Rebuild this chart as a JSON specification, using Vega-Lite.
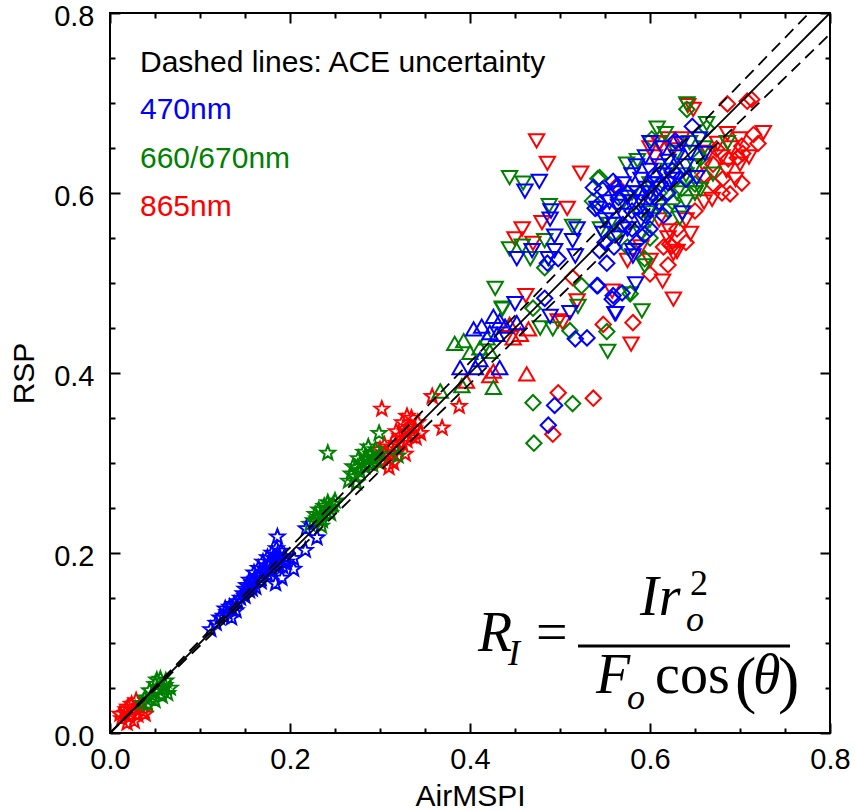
{
"$schema": "https://vega.github.io/schema/vega-lite/v6.json",
"width": 720, "height": 720,
"autosize": "none",
"padding": {"left": 110, "top": 13, "right": 25, "bottom": 77},
"background": "white",
"config": {
 "view": {"stroke": "black", "strokeWidth": 2},
 "axis": {"labelFont": "Liberation Sans", "labelFontSize": 29, "labelColor": "black", "titleFont": "Liberation Sans", "titleFontSize": 30, "titleFontWeight": "normal", "titleColor": "black", "grid": false, "domain": false, "labelFlush": false, "labelOverlap": false}
},
"resolve": {"axis": {"x": "independent", "y": "independent"}},
"datasets": {
 "pts": [
{"a":0.017,"r":0.022,"b":"865","m":"star"},{"a":0.02,"r":0.029,"b":"865","m":"star"},{"a":0.024,"r":0.032,"b":"865","m":"star"},{"a":0.028,"r":0.027,"b":"865","m":"star"},{"a":0.031,"r":0.02,"b":"865","m":"star"},{"a":0.022,"r":0.018,"b":"865","m":"star"},{"a":0.013,"r":0.016,"b":"865","m":"star"},{"a":0.033,"r":0.03,"b":"865","m":"star"},{"a":0.037,"r":0.024,"b":"865","m":"star"},{"a":0.019,"r":0.011,"b":"865","m":"star"},{"a":0.027,"r":0.013,"b":"865","m":"star"},{"a":0.011,"r":0.021,"b":"865","m":"star"},{"a":0.029,"r":0.036,"b":"865","m":"star"},{"a":0.039,"r":0.021,"b":"865","m":"star"},{"a":0.018,"r":0.026,"b":"865","m":"star"},
{"a":0.3,"r":0.3,"b":"865","m":"star"},{"a":0.305,"r":0.31,"b":"865","m":"star"},{"a":0.31,"r":0.305,"b":"865","m":"star"},{"a":0.312,"r":0.318,"b":"865","m":"star"},{"a":0.315,"r":0.31,"b":"865","m":"star"},{"a":0.318,"r":0.322,"b":"865","m":"star"},{"a":0.32,"r":0.315,"b":"865","m":"star"},{"a":0.322,"r":0.33,"b":"865","m":"star"},{"a":0.325,"r":0.322,"b":"865","m":"star"},{"a":0.328,"r":0.335,"b":"865","m":"star"},{"a":0.33,"r":0.325,"b":"865","m":"star"},{"a":0.332,"r":0.34,"b":"865","m":"star"},{"a":0.335,"r":0.33,"b":"865","m":"star"},{"a":0.338,"r":0.338,"b":"865","m":"star"},{"a":0.34,"r":0.328,"b":"865","m":"star"},{"a":0.345,"r":0.333,"b":"865","m":"star"},{"a":0.31,"r":0.295,"b":"865","m":"star"},{"a":0.315,"r":0.3,"b":"865","m":"star"},{"a":0.305,"r":0.32,"b":"865","m":"star"},{"a":0.3,"r":0.315,"b":"865","m":"star"},{"a":0.325,"r":0.345,"b":"865","m":"star"},{"a":0.335,"r":0.35,"b":"865","m":"star"},{"a":0.342,"r":0.345,"b":"865","m":"star"},{"a":0.318,"r":0.335,"b":"865","m":"star"},{"a":0.328,"r":0.31,"b":"865","m":"star"},
{"a":0.302,"r":0.36,"b":"865","m":"star"},{"a":0.358,"r":0.374,"b":"865","m":"star"},{"a":0.369,"r":0.339,"b":"865","m":"star"},{"a":0.388,"r":0.363,"b":"865","m":"star"},{"a":0.33,"r":0.352,"b":"865","m":"star"},
{"a":0.039,"r":0.039,"b":"660","m":"star"},{"a":0.044,"r":0.047,"b":"660","m":"star"},{"a":0.05,"r":0.054,"b":"660","m":"star"},{"a":0.056,"r":0.06,"b":"660","m":"star"},{"a":0.061,"r":0.053,"b":"660","m":"star"},{"a":0.064,"r":0.044,"b":"660","m":"star"},{"a":0.058,"r":0.041,"b":"660","m":"star"},{"a":0.05,"r":0.036,"b":"660","m":"star"},{"a":0.042,"r":0.032,"b":"660","m":"star"},{"a":0.053,"r":0.049,"b":"660","m":"star"},{"a":0.047,"r":0.042,"b":"660","m":"star"},{"a":0.059,"r":0.049,"b":"660","m":"star"},{"a":0.052,"r":0.059,"b":"660","m":"star"},{"a":0.036,"r":0.033,"b":"660","m":"star"},{"a":0.062,"r":0.058,"b":"660","m":"star"},{"a":0.067,"r":0.05,"b":"660","m":"star"},
{"a":0.222,"r":0.232,"b":"660","m":"star"},{"a":0.226,"r":0.236,"b":"660","m":"star"},{"a":0.23,"r":0.238,"b":"660","m":"star"},{"a":0.234,"r":0.242,"b":"660","m":"star"},{"a":0.236,"r":0.236,"b":"660","m":"star"},{"a":0.24,"r":0.248,"b":"660","m":"star"},{"a":0.243,"r":0.25,"b":"660","m":"star"},{"a":0.245,"r":0.244,"b":"660","m":"star"},{"a":0.248,"r":0.254,"b":"660","m":"star"},{"a":0.238,"r":0.252,"b":"660","m":"star"},{"a":0.232,"r":0.248,"b":"660","m":"star"},{"a":0.228,"r":0.243,"b":"660","m":"star"},{"a":0.25,"r":0.258,"b":"660","m":"star"},{"a":0.242,"r":0.256,"b":"660","m":"star"},{"a":0.235,"r":0.23,"b":"660","m":"star"},{"a":0.242,"r":0.311,"b":"660","m":"star"},
{"a":0.265,"r":0.28,"b":"660","m":"star"},{"a":0.268,"r":0.288,"b":"660","m":"star"},{"a":0.272,"r":0.285,"b":"660","m":"star"},{"a":0.275,"r":0.295,"b":"660","m":"star"},{"a":0.278,"r":0.29,"b":"660","m":"star"},{"a":0.28,"r":0.3,"b":"660","m":"star"},{"a":0.283,"r":0.296,"b":"660","m":"star"},{"a":0.285,"r":0.306,"b":"660","m":"star"},{"a":0.288,"r":0.3,"b":"660","m":"star"},{"a":0.29,"r":0.31,"b":"660","m":"star"},{"a":0.293,"r":0.305,"b":"660","m":"star"},{"a":0.295,"r":0.315,"b":"660","m":"star"},{"a":0.27,"r":0.296,"b":"660","m":"star"},{"a":0.276,"r":0.305,"b":"660","m":"star"},{"a":0.282,"r":0.312,"b":"660","m":"star"},{"a":0.287,"r":0.318,"b":"660","m":"star"},{"a":0.292,"r":0.298,"b":"660","m":"star"},{"a":0.297,"r":0.302,"b":"660","m":"star"},{"a":0.3,"r":0.31,"b":"660","m":"star"},{"a":0.274,"r":0.278,"b":"660","m":"star"},{"a":0.299,"r":0.333,"b":"660","m":"star"},{"a":0.32,"r":0.308,"b":"660","m":"star"},
{"a":0.112,"r":0.115,"b":"470","m":"star"},{"a":0.118,"r":0.122,"b":"470","m":"star"},{"a":0.122,"r":0.128,"b":"470","m":"star"},{"a":0.126,"r":0.13,"b":"470","m":"star"},{"a":0.13,"r":0.134,"b":"470","m":"star"},{"a":0.133,"r":0.14,"b":"470","m":"star"},{"a":0.136,"r":0.137,"b":"470","m":"star"},{"a":0.138,"r":0.143,"b":"470","m":"star"},{"a":0.14,"r":0.136,"b":"470","m":"star"},{"a":0.135,"r":0.128,"b":"470","m":"star"},{"a":0.128,"r":0.138,"b":"470","m":"star"},{"a":0.142,"r":0.146,"b":"470","m":"star"},{"a":0.145,"r":0.15,"b":"470","m":"star"},{"a":0.148,"r":0.155,"b":"470","m":"star"},{"a":0.15,"r":0.16,"b":"470","m":"star"},{"a":0.152,"r":0.164,"b":"470","m":"star"},{"a":0.155,"r":0.158,"b":"470","m":"star"},{"a":0.158,"r":0.166,"b":"470","m":"star"},{"a":0.16,"r":0.17,"b":"470","m":"star"},{"a":0.162,"r":0.162,"b":"470","m":"star"},{"a":0.165,"r":0.174,"b":"470","m":"star"},{"a":0.168,"r":0.168,"b":"470","m":"star"},{"a":0.17,"r":0.178,"b":"470","m":"star"},{"a":0.172,"r":0.182,"b":"470","m":"star"},{"a":0.175,"r":0.176,"b":"470","m":"star"},{"a":0.176,"r":0.186,"b":"470","m":"star"},{"a":0.178,"r":0.19,"b":"470","m":"star"},{"a":0.18,"r":0.182,"b":"470","m":"star"},{"a":0.182,"r":0.194,"b":"470","m":"star"},{"a":0.185,"r":0.188,"b":"470","m":"star"},{"a":0.186,"r":0.198,"b":"470","m":"star"},{"a":0.188,"r":0.192,"b":"470","m":"star"},{"a":0.19,"r":0.202,"b":"470","m":"star"},{"a":0.192,"r":0.185,"b":"470","m":"star"},{"a":0.194,"r":0.196,"b":"470","m":"star"},{"a":0.155,"r":0.17,"b":"470","m":"star"},{"a":0.16,"r":0.178,"b":"470","m":"star"},{"a":0.165,"r":0.183,"b":"470","m":"star"},{"a":0.17,"r":0.19,"b":"470","m":"star"},{"a":0.175,"r":0.195,"b":"470","m":"star"},{"a":0.18,"r":0.2,"b":"470","m":"star"},{"a":0.185,"r":0.205,"b":"470","m":"star"},{"a":0.15,"r":0.152,"b":"470","m":"star"},{"a":0.158,"r":0.16,"b":"470","m":"star"},{"a":0.168,"r":0.172,"b":"470","m":"star"},{"a":0.178,"r":0.18,"b":"470","m":"star"},{"a":0.188,"r":0.186,"b":"470","m":"star"},{"a":0.196,"r":0.19,"b":"470","m":"star"},
{"a":0.186,"r":0.218,"b":"470","m":"star"},{"a":0.218,"r":0.227,"b":"470","m":"star"},{"a":0.23,"r":0.217,"b":"470","m":"star"},{"a":0.217,"r":0.203,"b":"470","m":"star"},{"a":0.204,"r":0.194,"b":"470","m":"star"},{"a":0.204,"r":0.182,"b":"470","m":"star"},{"a":0.191,"r":0.172,"b":"470","m":"star"},{"a":0.184,"r":0.166,"b":"470","m":"star"},
{"a":0.463,"r":0.399,"b":"865","m":"up"},{"a":0.426,"r":0.402,"b":"865","m":"up"},{"a":0.448,"r":0.439,"b":"865","m":"up"},{"a":0.456,"r":0.443,"b":"865","m":"up"},{"a":0.465,"r":0.449,"b":"865","m":"up"},{"a":0.444,"r":0.454,"b":"865","m":"up"},{"a":0.396,"r":0.391,"b":"865","m":"up"},{"a":0.422,"r":0.397,"b":"865","m":"up"},
{"a":0.383,"r":0.433,"b":"660","m":"up"},{"a":0.393,"r":0.436,"b":"660","m":"up"},{"a":0.4,"r":0.423,"b":"660","m":"up"},{"a":0.411,"r":0.428,"b":"660","m":"up"},{"a":0.391,"r":0.386,"b":"660","m":"up"},{"a":0.426,"r":0.384,"b":"660","m":"up"},{"a":0.367,"r":0.38,"b":"660","m":"up"},{"a":0.419,"r":0.439,"b":"660","m":"up"},{"a":0.422,"r":0.424,"b":"660","m":"up"},
{"a":0.426,"r":0.463,"b":"470","m":"up"},{"a":0.413,"r":0.452,"b":"470","m":"up"},{"a":0.404,"r":0.449,"b":"470","m":"up"},{"a":0.433,"r":0.458,"b":"470","m":"up"},{"a":0.439,"r":0.452,"b":"470","m":"up"},{"a":0.422,"r":0.445,"b":"470","m":"up"},{"a":0.452,"r":0.456,"b":"470","m":"up"},{"a":0.389,"r":0.406,"b":"470","m":"up"},{"a":0.406,"r":0.406,"b":"470","m":"up"},{"a":0.411,"r":0.415,"b":"470","m":"up"},{"a":0.433,"r":0.406,"b":"470","m":"up"},{"a":0.43,"r":0.443,"b":"470","m":"up"},
{"a":0.474,"r":0.658,"b":"865","m":"down"},{"a":0.486,"r":0.633,"b":"865","m":"down"},{"a":0.523,"r":0.622,"b":"865","m":"down"},{"a":0.508,"r":0.583,"b":"865","m":"down"},{"a":0.458,"r":0.56,"b":"865","m":"down"},{"a":0.45,"r":0.549,"b":"865","m":"down"},{"a":0.48,"r":0.567,"b":"865","m":"down"},{"a":0.47,"r":0.544,"b":"865","m":"down"},{"a":0.462,"r":0.486,"b":"865","m":"down"},{"a":0.519,"r":0.48,"b":"865","m":"down"},{"a":0.498,"r":0.458,"b":"865","m":"down"},{"a":0.642,"r":0.697,"b":"865","m":"down"},{"a":0.726,"r":0.667,"b":"865","m":"down"},{"a":0.686,"r":0.666,"b":"865","m":"down"},{"a":0.669,"r":0.593,"b":"865","m":"down"},{"a":0.7,"r":0.632,"b":"865","m":"down"},{"a":0.622,"r":0.558,"b":"865","m":"down"},{"a":0.611,"r":0.656,"b":"865","m":"down"},{"a":0.626,"r":0.533,"b":"865","m":"down"},{"a":0.614,"r":0.502,"b":"865","m":"down"},{"a":0.626,"r":0.482,"b":"865","m":"down"},{"a":0.579,"r":0.432,"b":"865","m":"down"},{"a":0.558,"r":0.491,"b":"865","m":"down"},{"a":0.503,"r":0.456,"b":"865","m":"down"},{"a":0.648,"r":0.693,"b":"865","m":"down"},
{"a":0.6,"r":0.65,"b":"865","m":"down"},{"a":0.61,"r":0.655,"b":"865","m":"down"},{"a":0.62,"r":0.66,"b":"865","m":"down"},{"a":0.625,"r":0.648,"b":"865","m":"down"},{"a":0.605,"r":0.64,"b":"865","m":"down"},{"a":0.635,"r":0.66,"b":"865","m":"down"},{"a":0.66,"r":0.63,"b":"865","m":"down"},{"a":0.665,"r":0.645,"b":"865","m":"down"},{"a":0.675,"r":0.655,"b":"865","m":"down"},{"a":0.68,"r":0.64,"b":"865","m":"down"},{"a":0.69,"r":0.65,"b":"865","m":"down"},{"a":0.685,"r":0.625,"b":"865","m":"down"},{"a":0.7,"r":0.66,"b":"865","m":"down"},{"a":0.695,"r":0.615,"b":"865","m":"down"},{"a":0.71,"r":0.64,"b":"865","m":"down"},{"a":0.65,"r":0.6,"b":"865","m":"down"},{"a":0.66,"r":0.59,"b":"865","m":"down"},{"a":0.64,"r":0.57,"b":"865","m":"down"},{"a":0.62,"r":0.55,"b":"865","m":"down"},{"a":0.63,"r":0.535,"b":"865","m":"down"},{"a":0.645,"r":0.555,"b":"865","m":"down"},{"a":0.61,"r":0.57,"b":"865","m":"down"},{"a":0.59,"r":0.54,"b":"865","m":"down"},{"a":0.6,"r":0.525,"b":"865","m":"down"},{"a":0.575,"r":0.525,"b":"865","m":"down"},
{"a":0.548,"r":0.454,"b":"865","m":"diamond"},{"a":0.581,"r":0.456,"b":"865","m":"diamond"},{"a":0.514,"r":0.506,"b":"865","m":"diamond"},{"a":0.563,"r":0.608,"b":"865","m":"diamond"},{"a":0.686,"r":0.699,"b":"865","m":"diamond"},{"a":0.708,"r":0.702,"b":"865","m":"diamond"},{"a":0.713,"r":0.704,"b":"865","m":"diamond"},{"a":0.702,"r":0.652,"b":"865","m":"diamond"},{"a":0.703,"r":0.644,"b":"865","m":"diamond"},{"a":0.697,"r":0.639,"b":"865","m":"diamond"},{"a":0.687,"r":0.638,"b":"865","m":"diamond"},{"a":0.702,"r":0.611,"b":"865","m":"diamond"},{"a":0.689,"r":0.599,"b":"865","m":"diamond"},{"a":0.681,"r":0.616,"b":"865","m":"diamond"},{"a":0.67,"r":0.632,"b":"865","m":"diamond"},{"a":0.674,"r":0.649,"b":"865","m":"diamond"},{"a":0.622,"r":0.543,"b":"865","m":"diamond"},{"a":0.624,"r":0.541,"b":"865","m":"diamond"},{"a":0.537,"r":0.372,"b":"865","m":"diamond"},{"a":0.498,"r":0.378,"b":"865","m":"diamond"},{"a":0.492,"r":0.332,"b":"865","m":"diamond"},
{"a":0.66,"r":0.62,"b":"865","m":"diamond"},{"a":0.67,"r":0.61,"b":"865","m":"diamond"},{"a":0.68,"r":0.6,"b":"865","m":"diamond"},{"a":0.65,"r":0.58,"b":"865","m":"diamond"},{"a":0.63,"r":0.56,"b":"865","m":"diamond"},{"a":0.615,"r":0.54,"b":"865","m":"diamond"},{"a":0.64,"r":0.545,"b":"865","m":"diamond"},{"a":0.6,"r":0.51,"b":"865","m":"diamond"},{"a":0.62,"r":0.52,"b":"865","m":"diamond"},{"a":0.715,"r":0.665,"b":"865","m":"diamond"},{"a":0.72,"r":0.655,"b":"865","m":"diamond"},
{"a":0.444,"r":0.617,"b":"660","m":"down"},{"a":0.459,"r":0.611,"b":"660","m":"down"},{"a":0.488,"r":0.586,"b":"660","m":"down"},{"a":0.444,"r":0.538,"b":"660","m":"down"},{"a":0.458,"r":0.541,"b":"660","m":"down"},{"a":0.483,"r":0.547,"b":"660","m":"down"},{"a":0.467,"r":0.527,"b":"660","m":"down"},{"a":0.428,"r":0.494,"b":"660","m":"down"},{"a":0.436,"r":0.472,"b":"660","m":"down"},{"a":0.514,"r":0.563,"b":"660","m":"down"},{"a":0.52,"r":0.474,"b":"660","m":"down"},{"a":0.608,"r":0.672,"b":"660","m":"down"},{"a":0.617,"r":0.666,"b":"660","m":"down"},{"a":0.663,"r":0.677,"b":"660","m":"down"},{"a":0.686,"r":0.656,"b":"660","m":"down"},{"a":0.67,"r":0.621,"b":"660","m":"down"},{"a":0.656,"r":0.604,"b":"660","m":"down"},{"a":0.633,"r":0.572,"b":"660","m":"down"},{"a":0.597,"r":0.578,"b":"660","m":"down"},{"a":0.586,"r":0.636,"b":"660","m":"down"},{"a":0.574,"r":0.632,"b":"660","m":"down"},{"a":0.644,"r":0.656,"b":"660","m":"down"},{"a":0.641,"r":0.699,"b":"660","m":"down"},{"a":0.578,"r":0.488,"b":"660","m":"down"},{"a":0.591,"r":0.469,"b":"660","m":"down"},{"a":0.553,"r":0.424,"b":"660","m":"down"},{"a":0.594,"r":0.519,"b":"660","m":"down"},{"a":0.436,"r":0.471,"b":"660","m":"down"},{"a":0.478,"r":0.45,"b":"660","m":"down"},{"a":0.492,"r":0.449,"b":"660","m":"down"},
{"a":0.58,"r":0.6,"b":"660","m":"down"},{"a":0.6,"r":0.61,"b":"660","m":"down"},{"a":0.62,"r":0.625,"b":"660","m":"down"},{"a":0.63,"r":0.6,"b":"660","m":"down"},{"a":0.64,"r":0.62,"b":"660","m":"down"},{"a":0.65,"r":0.63,"b":"660","m":"down"},{"a":0.61,"r":0.585,"b":"660","m":"down"},{"a":0.6,"r":0.57,"b":"660","m":"down"},{"a":0.62,"r":0.58,"b":"660","m":"down"},{"a":0.66,"r":0.65,"b":"660","m":"down"},{"a":0.57,"r":0.59,"b":"660","m":"down"},{"a":0.555,"r":0.565,"b":"660","m":"down"},{"a":0.545,"r":0.56,"b":"660","m":"down"},{"a":0.59,"r":0.555,"b":"660","m":"down"},{"a":0.63,"r":0.645,"b":"660","m":"down"},{"a":0.65,"r":0.6,"b":"660","m":"down"},{"a":0.64,"r":0.59,"b":"660","m":"down"},
{"a":0.542,"r":0.616,"b":"660","m":"diamond"},{"a":0.483,"r":0.517,"b":"660","m":"diamond"},{"a":0.47,"r":0.472,"b":"660","m":"diamond"},{"a":0.524,"r":0.497,"b":"660","m":"diamond"},{"a":0.536,"r":0.591,"b":"660","m":"diamond"},{"a":0.578,"r":0.488,"b":"660","m":"diamond"},{"a":0.641,"r":0.693,"b":"660","m":"diamond"},{"a":0.663,"r":0.672,"b":"660","m":"diamond"},{"a":0.544,"r":0.617,"b":"660","m":"diamond"},{"a":0.602,"r":0.66,"b":"660","m":"diamond"},{"a":0.656,"r":0.639,"b":"660","m":"diamond"},{"a":0.552,"r":0.446,"b":"660","m":"diamond"},{"a":0.594,"r":0.527,"b":"660","m":"diamond"},{"a":0.47,"r":0.367,"b":"660","m":"diamond"},{"a":0.514,"r":0.366,"b":"660","m":"diamond"},{"a":0.471,"r":0.322,"b":"660","m":"diamond"},{"a":0.511,"r":0.447,"b":"660","m":"diamond"},
{"a":0.59,"r":0.58,"b":"660","m":"diamond"},{"a":0.61,"r":0.6,"b":"660","m":"diamond"},{"a":0.625,"r":0.59,"b":"660","m":"diamond"},{"a":0.635,"r":0.605,"b":"660","m":"diamond"},{"a":0.6,"r":0.55,"b":"660","m":"diamond"},{"a":0.65,"r":0.61,"b":"660","m":"diamond"},{"a":0.56,"r":0.555,"b":"660","m":"diamond"},{"a":0.575,"r":0.54,"b":"660","m":"diamond"},
{"a":0.477,"r":0.613,"b":"470","m":"down"},{"a":0.461,"r":0.602,"b":"470","m":"down"},{"a":0.49,"r":0.58,"b":"470","m":"down"},{"a":0.489,"r":0.571,"b":"470","m":"down"},{"a":0.494,"r":0.552,"b":"470","m":"down"},{"a":0.452,"r":0.527,"b":"470","m":"down"},{"a":0.469,"r":0.536,"b":"470","m":"down"},{"a":0.494,"r":0.536,"b":"470","m":"down"},{"a":0.519,"r":0.56,"b":"470","m":"down"},{"a":0.514,"r":0.547,"b":"470","m":"down"},{"a":0.517,"r":0.53,"b":"470","m":"down"},{"a":0.487,"r":0.527,"b":"470","m":"down"},{"a":0.45,"r":0.477,"b":"470","m":"down"},{"a":0.489,"r":0.463,"b":"470","m":"down"},{"a":0.511,"r":0.467,"b":"470","m":"down"},{"a":0.561,"r":0.466,"b":"470","m":"down"},{"a":0.6,"r":0.656,"b":"470","m":"down"},{"a":0.614,"r":0.65,"b":"470","m":"down"},{"a":0.661,"r":0.644,"b":"470","m":"down"},{"a":0.652,"r":0.617,"b":"470","m":"down"},{"a":0.636,"r":0.578,"b":"470","m":"down"},{"a":0.581,"r":0.536,"b":"470","m":"down"},{"a":0.541,"r":0.583,"b":"470","m":"down"},{"a":0.584,"r":0.499,"b":"470","m":"down"},{"a":0.562,"r":0.466,"b":"470","m":"down"},{"a":0.581,"r":0.53,"b":"470","m":"down"},
{"a":0.56,"r":0.6,"b":"470","m":"down"},{"a":0.57,"r":0.61,"b":"470","m":"down"},{"a":0.575,"r":0.595,"b":"470","m":"down"},{"a":0.58,"r":0.62,"b":"470","m":"down"},{"a":0.585,"r":0.6,"b":"470","m":"down"},{"a":0.59,"r":0.615,"b":"470","m":"down"},{"a":0.595,"r":0.605,"b":"470","m":"down"},{"a":0.6,"r":0.625,"b":"470","m":"down"},{"a":0.605,"r":0.61,"b":"470","m":"down"},{"a":0.61,"r":0.63,"b":"470","m":"down"},{"a":0.615,"r":0.62,"b":"470","m":"down"},{"a":0.62,"r":0.635,"b":"470","m":"down"},{"a":0.625,"r":0.615,"b":"470","m":"down"},{"a":0.63,"r":0.64,"b":"470","m":"down"},{"a":0.565,"r":0.585,"b":"470","m":"down"},{"a":0.57,"r":0.575,"b":"470","m":"down"},{"a":0.58,"r":0.59,"b":"470","m":"down"},{"a":0.59,"r":0.59,"b":"470","m":"down"},{"a":0.6,"r":0.6,"b":"470","m":"down"},{"a":0.61,"r":0.605,"b":"470","m":"down"},{"a":0.62,"r":0.61,"b":"470","m":"down"},{"a":0.55,"r":0.57,"b":"470","m":"down"},{"a":0.555,"r":0.59,"b":"470","m":"down"},{"a":0.585,"r":0.63,"b":"470","m":"down"},{"a":0.595,"r":0.64,"b":"470","m":"down"},{"a":0.64,"r":0.63,"b":"470","m":"down"},{"a":0.645,"r":0.645,"b":"470","m":"down"},{"a":0.575,"r":0.56,"b":"470","m":"down"},{"a":0.565,"r":0.55,"b":"470","m":"down"},{"a":0.59,"r":0.57,"b":"470","m":"down"},{"a":0.6,"r":0.58,"b":"470","m":"down"},{"a":0.635,"r":0.655,"b":"470","m":"down"},{"a":0.655,"r":0.66,"b":"470","m":"down"},{"a":0.548,"r":0.555,"b":"470","m":"down"},{"a":0.56,"r":0.565,"b":"470","m":"down"},
{"a":0.547,"r":0.604,"b":"470","m":"diamond"},{"a":0.486,"r":0.522,"b":"470","m":"diamond"},{"a":0.498,"r":0.527,"b":"470","m":"diamond"},{"a":0.539,"r":0.583,"b":"470","m":"diamond"},{"a":0.542,"r":0.497,"b":"470","m":"diamond"},{"a":0.559,"r":0.486,"b":"470","m":"diamond"},{"a":0.569,"r":0.489,"b":"470","m":"diamond"},{"a":0.483,"r":0.483,"b":"470","m":"diamond"},{"a":0.544,"r":0.536,"b":"470","m":"diamond"},{"a":0.552,"r":0.522,"b":"470","m":"diamond"},{"a":0.647,"r":0.674,"b":"470","m":"diamond"},{"a":0.628,"r":0.658,"b":"470","m":"diamond"},{"a":0.559,"r":0.613,"b":"470","m":"diamond"},{"a":0.537,"r":0.606,"b":"470","m":"diamond"},{"a":0.563,"r":0.606,"b":"470","m":"diamond"},{"a":0.594,"r":0.554,"b":"470","m":"diamond"},{"a":0.544,"r":0.588,"b":"470","m":"diamond"},{"a":0.541,"r":0.497,"b":"470","m":"diamond"},{"a":0.558,"r":0.482,"b":"470","m":"diamond"},{"a":0.53,"r":0.439,"b":"470","m":"diamond"},{"a":0.494,"r":0.364,"b":"470","m":"diamond"},{"a":0.487,"r":0.342,"b":"470","m":"diamond"},{"a":0.517,"r":0.438,"b":"470","m":"diamond"},
{"a":0.555,"r":0.58,"b":"470","m":"diamond"},{"a":0.565,"r":0.595,"b":"470","m":"diamond"},{"a":0.575,"r":0.6,"b":"470","m":"diamond"},{"a":0.58,"r":0.58,"b":"470","m":"diamond"},{"a":0.59,"r":0.6,"b":"470","m":"diamond"},{"a":0.6,"r":0.595,"b":"470","m":"diamond"},{"a":0.605,"r":0.62,"b":"470","m":"diamond"},{"a":0.612,"r":0.61,"b":"470","m":"diamond"},{"a":0.62,"r":0.6,"b":"470","m":"diamond"},{"a":0.57,"r":0.565,"b":"470","m":"diamond"},{"a":0.58,"r":0.56,"b":"470","m":"diamond"},{"a":0.595,"r":0.575,"b":"470","m":"diamond"},{"a":0.61,"r":0.59,"b":"470","m":"diamond"},{"a":0.625,"r":0.625,"b":"470","m":"diamond"},{"a":0.63,"r":0.62,"b":"470","m":"diamond"},{"a":0.64,"r":0.615,"b":"470","m":"diamond"},{"a":0.55,"r":0.545,"b":"470","m":"diamond"},{"a":0.56,"r":0.54,"b":"470","m":"diamond"},{"a":0.585,"r":0.545,"b":"470","m":"diamond"},{"a":0.6,"r":0.56,"b":"470","m":"diamond"},{"a":0.615,"r":0.575,"b":"470","m":"diamond"}
 ],
 "lines": [
  {"a": 0, "r": 0, "k": "upper"}, {"a": 0.7767, "r": 0.8, "k": "upper"},
  {"a": 0, "r": 0, "k": "lower"}, {"a": 0.8, "r": 0.7767, "k": "lower"}
 ],
 "one": [{"a": 0, "r": 0}, {"a": 0.8, "r": 0.8}],
 "notes": [
  {"a": 0.0333, "r": 0.7344, "t": "Dashed lines: ACE uncertainty", "b": "note"},
  {"a": 0.0333, "r": 0.6822, "t": "470nm", "b": "470"},
  {"a": 0.0333, "r": 0.6278, "t": "660/670nm", "b": "660"},
  {"a": 0.0333, "r": 0.5744, "t": "865nm", "b": "865"}
 ],
 "eq": [
  {"a": 0.4089, "r": 0.0911, "t": "R", "k": "bi"},
  {"a": 0.5889, "r": 0.1311, "t": "Ir", "k": "bi"},
  {"a": 0.54, "r": 0.0444, "t": "F", "k": "bi"},
  {"a": 0.7144, "r": 0.0444, "t": "θ", "k": "bi"},
  {"a": 0.4733, "r": 0.0911, "t": "=", "k": "bu"},
  {"a": 0.6056, "r": 0.0444, "t": "cos", "k": "bu"},
  {"a": 0.4422, "r": 0.0756, "t": "I", "k": "si"},
  {"a": 0.64, "r": 0.1133, "t": "o", "k": "si"},
  {"a": 0.5744, "r": 0.0267, "t": "o", "k": "si"},
  {"a": 0.6444, "r": 0.1533, "t": "2", "k": "su"},
  {"a": 0.6944, "r": 0.0356, "t": "(", "k": "pa"},
  {"a": 0.7422, "r": 0.0356, "t": ")", "k": "pa"}
 ],
 "bar": [{"a": 0.52, "a2": 0.7556, "r": 0.0967}]
},
"layer": [
 {
  "data": {"name": "pts"},
  "mark": {"type": "point", "filled": false, "strokeWidth": 2, "size": 235, "opacity": 1},
  "encoding": {
   "x": {"field": "a", "type": "quantitative", "scale": {"domain": [0, 0.8], "nice": false, "zero": false},
         "axis": {"orient": "bottom", "values": [0, 0.2, 0.4, 0.6, 0.8], "format": ".1f", "ticks": false, "labelPadding": 12, "title": "AirMSPI", "titleY": 72, "titleBaseline": "alphabetic"}},
   "y": {"field": "r", "type": "quantitative", "scale": {"domain": [0, 0.8], "nice": false, "zero": false},
         "axis": {"orient": "left", "values": [0, 0.2, 0.4, 0.6, 0.8], "format": ".1f", "ticks": false, "labelPadding": 16, "labelOffset": 3, "title": "RSP", "titleX": -77, "titleY": 360, "titleAngle": -90, "titleAlign": "center", "titleBaseline": "alphabetic"}},
   "color": {"field": "b", "type": "nominal", "scale": {"domain": ["470", "660", "865", "note"], "range": ["#0000ff", "#008000", "#ff0000", "#000000"]}, "legend": null},
   "shape": {"field": "m", "type": "nominal", "scale": {"domain": ["star", "up", "down", "diamond"], "range": ["M0,-1L0.247,-0.34L0.951,-0.309L0.4,0.13L0.588,0.809L0,0.42L-0.588,0.809L-0.4,0.13L-0.951,-0.309L-0.247,-0.34Z", "triangle-up", "triangle-down", "diamond"]}, "legend": null}
  }
 },
 {
  "data": {"name": "lines"},
  "mark": {"type": "line", "color": "black", "strokeWidth": 1.8, "strokeDash": [12, 7]},
  "encoding": {
   "x": {"field": "a", "type": "quantitative", "axis": {"orient": "bottom", "values": [0, 0.2, 0.4, 0.6, 0.8], "labels": false, "tickSize": -10, "tickWidth": 2, "tickColor": "black", "title": null}},
   "y": {"field": "r", "type": "quantitative", "axis": {"orient": "left", "values": [0, 0.2, 0.4, 0.6, 0.8], "labels": false, "tickSize": -10, "tickWidth": 2, "tickColor": "black", "title": null}},
   "detail": {"field": "k"}
  }
 },
 {
  "data": {"name": "one"},
  "mark": {"type": "line", "color": "black", "strokeWidth": 1.8},
  "encoding": {
   "x": {"field": "a", "type": "quantitative", "axis": {"orient": "bottom", "values": [0.05, 0.1, 0.15, 0.25, 0.3, 0.35, 0.45, 0.5, 0.55, 0.65, 0.7, 0.75], "labels": false, "tickSize": -5, "tickWidth": 2, "tickColor": "black", "title": null}},
   "y": {"field": "r", "type": "quantitative", "axis": {"orient": "left", "values": [0.05, 0.1, 0.15, 0.25, 0.3, 0.35, 0.45, 0.5, 0.55, 0.65, 0.7, 0.75], "labels": false, "tickSize": -5, "tickWidth": 2, "tickColor": "black", "title": null}}
  }
 },
 {
  "data": {"name": "notes"},
  "mark": {"type": "text", "align": "left", "baseline": "alphabetic", "font": "Liberation Sans", "fontSize": 30},
  "encoding": {
   "x": {"field": "a", "type": "quantitative", "axis": {"orient": "top", "values": [0, 0.2, 0.4, 0.6, 0.8], "labels": false, "tickSize": -10, "tickWidth": 2, "tickColor": "black", "title": null}},
   "y": {"field": "r", "type": "quantitative", "axis": {"orient": "right", "values": [0, 0.2, 0.4, 0.6, 0.8], "labels": false, "tickSize": -10, "tickWidth": 2, "tickColor": "black", "title": null}},
   "text": {"field": "t"},
   "color": {"field": "b", "type": "nominal", "legend": null}
  }
 },
 {
  "data": {"name": "eq"},
  "transform": [{"filter": "datum.k === 'bi'"}],
  "mark": {"type": "text", "align": "left", "baseline": "alphabetic", "font": "Liberation Serif", "fontStyle": "italic", "fontSize": 56, "color": "black"},
  "encoding": {
   "x": {"field": "a", "type": "quantitative", "axis": {"orient": "top", "values": [0.05, 0.1, 0.15, 0.25, 0.3, 0.35, 0.45, 0.5, 0.55, 0.65, 0.7, 0.75], "labels": false, "tickSize": -5, "tickWidth": 2, "tickColor": "black", "title": null}},
   "y": {"field": "r", "type": "quantitative", "axis": {"orient": "right", "values": [0.05, 0.1, 0.15, 0.25, 0.3, 0.35, 0.45, 0.5, 0.55, 0.65, 0.7, 0.75], "labels": false, "tickSize": -5, "tickWidth": 2, "tickColor": "black", "title": null}},
   "text": {"field": "t"}
  }
 },
 {
  "data": {"name": "eq"},
  "transform": [{"filter": "datum.k === 'bu'"}],
  "mark": {"type": "text", "align": "left", "baseline": "alphabetic", "font": "Liberation Serif", "fontSize": 56, "color": "black"},
  "encoding": {
   "x": {"field": "a", "type": "quantitative", "axis": null},
   "y": {"field": "r", "type": "quantitative", "axis": null},
   "text": {"field": "t"}
  }
 },
 {
  "data": {"name": "eq"},
  "transform": [{"filter": "datum.k === 'si'"}],
  "mark": {"type": "text", "align": "left", "baseline": "alphabetic", "font": "Liberation Serif", "fontStyle": "italic", "fontSize": 36, "color": "black"},
  "encoding": {
   "x": {"field": "a", "type": "quantitative", "axis": null},
   "y": {"field": "r", "type": "quantitative", "axis": null},
   "text": {"field": "t"}
  }
 },
 {
  "data": {"name": "eq"},
  "transform": [{"filter": "datum.k === 'su'"}],
  "mark": {"type": "text", "align": "left", "baseline": "alphabetic", "font": "Liberation Serif", "fontSize": 36, "color": "black"},
  "encoding": {
   "x": {"field": "a", "type": "quantitative", "axis": null},
   "y": {"field": "r", "type": "quantitative", "axis": null},
   "text": {"field": "t"}
  }
 },
 {
  "data": {"name": "eq"},
  "transform": [{"filter": "datum.k === 'pa'"}],
  "mark": {"type": "text", "align": "left", "baseline": "alphabetic", "font": "Liberation Serif", "fontSize": 64, "color": "black"},
  "encoding": {
   "x": {"field": "a", "type": "quantitative", "axis": null},
   "y": {"field": "r", "type": "quantitative", "axis": null},
   "text": {"field": "t"}
  }
 },
 {
  "data": {"name": "bar"},
  "mark": {"type": "rule", "color": "black", "strokeWidth": 3},
  "encoding": {
   "x": {"field": "a", "type": "quantitative", "axis": null},
   "x2": {"field": "a2"},
   "y": {"field": "r", "type": "quantitative", "axis": null}
  }
 }
]
}
